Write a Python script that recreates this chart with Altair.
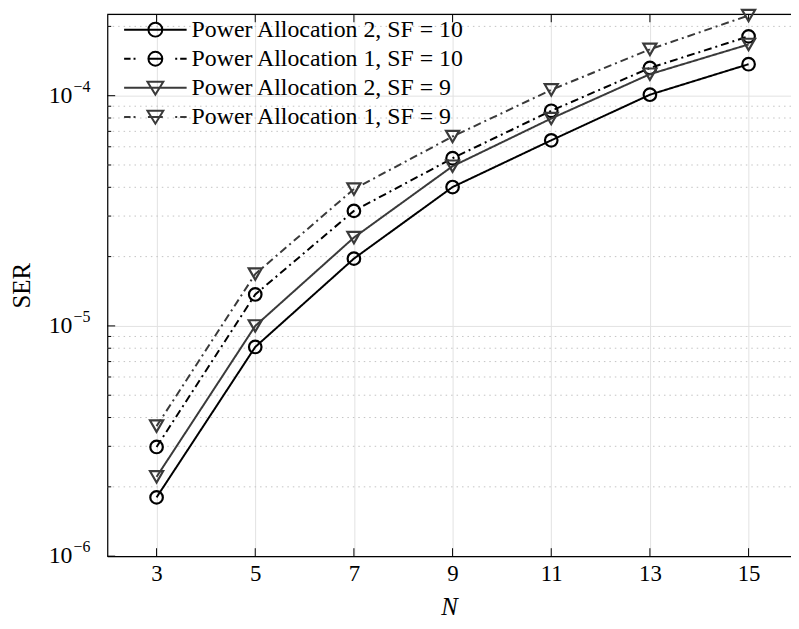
import altair as alt
import pandas as pd

# ---- data ----
N = [3, 5, 7, 9, 11, 13, 15]
pa2_sf10 = [1.80e-6, 8.1e-6, 1.96e-5, 4.01e-5, 6.4e-5, 1.01e-4, 1.37e-4]
pa1_sf10 = [2.98e-6, 1.37e-5, 3.16e-5, 5.35e-5, 8.6e-5, 1.32e-4, 1.81e-4]
pa2_sf9 = [2.21e-6, 1.0e-5, 2.42e-5, 4.94e-5, 7.96e-5, 1.24e-4, 1.67e-4]
pa1_sf9 = [3.67e-6, 1.68e-5, 3.93e-5, 6.65e-5, 1.06e-4, 1.59e-4, 2.23e-4]

series_names = [
    "Power Allocation 2, SF = 10",
    "Power Allocation 1, SF = 10",
    "Power Allocation 2, SF = 9",
    "Power Allocation 1, SF = 9",
]
series_values = [pa2_sf10, pa1_sf10, pa2_sf9, pa1_sf9]
series_colors = ["#000000", "#000000", "#3a3a3a", "#3a3a3a"]
series_shapes = ["circle", "circle", "triangle-down", "triangle-down"]
series_sizes = [160, 160, 175, 175]
series_dash = [[1, 0], [8, 4, 2, 4], [1, 0], [8, 4, 2, 4]]

x_ticks = [3, 5, 7, 9, 11, 13, 15]
y_major = [1e-6, 1e-5, 1e-4]
y_major_exp = ["\u22126", "\u22125", "\u22124"]
y_minor = [m * 10.0 ** e for e in (-6, -5, -4) for m in range(2, 10) if m * 10.0 ** e < 2.26e-4]

W, H = 689, 546
X_DOMAIN = [2, 15.86]
Y_DOMAIN = [1e-6, 2.257e-4]
FONT = "Liberation Serif"

xs = alt.Scale(domain=X_DOMAIN, nice=False, zero=False)
ys = alt.Scale(type="log", domain=Y_DOMAIN, nice=False)

# legend symbol paths (line + marker); unit = 10 px
circ = "M-0.7,0 A0.7,0.7 0 1,0 0.7,0 A0.7,0.7 0 1,0 -0.7,0 Z"
tri = "M-0.8,-0.62 L0.8,-0.62 L0,0.68 Z"
solid = "M-3.15,0 L3.15,0 "
dashdot = "M-3.15,0 L-2.5,0 M-2.2,0 L-2.0,0 M-0.75,0 L0.75,0 M2.0,0 L2.2,0 M2.5,0 L3.15,0 "
legend_paths = [solid + circ, dashdot + circ, solid + tri, dashdot + tri]

x_enc = alt.X("N:Q", scale=xs, axis=alt.Axis(
    values=x_ticks, title="N", titleFont=FONT, titleFontSize=25, titleFontStyle="italic",
    titleFontWeight="normal", titleColor="black", titlePadding=9,
    labelFont=FONT, labelFontSize=23, labelColor="black", labelPadding=7,
    tickSize=0, domainColor="black", domainWidth=1.2,
    grid=True, gridColor="#e2e2e2", gridWidth=1, labelFlush=False))
y_enc_axis = alt.Axis(
    values=y_major, title="SER", titleFont=FONT, titleFontSize=25,
    titleFontWeight="normal", titleColor="black", titlePadding=73,
    labels=False, tickSize=0, domainColor="black", domainWidth=1.2,
    grid=True, gridColor="#e2e2e2", gridWidth=1)

# minor dotted grid
minor_df = pd.DataFrame({"v": y_minor})
minor_grid = alt.Chart(minor_df).mark_rule(color="#c4c4c4", strokeDash=[1.5, 4], strokeWidth=1).encode(
    y=alt.Y("v:Q", scale=ys))
minor_ticks = alt.Chart(minor_df).mark_rule(color="black", strokeWidth=1).encode(
    y=alt.Y("v:Q", scale=ys), x=alt.value(0), x2=alt.value(4))

major_df = pd.DataFrame({"v": y_major, "base": ["10"] * 3, "exp": y_major_exp})
major_ticks = alt.Chart(major_df).mark_rule(color="black", strokeWidth=1).encode(
    y=alt.Y("v:Q", scale=ys), x=alt.value(0), x2=alt.value(8))
y_lab_base = alt.Chart(major_df).mark_text(
    font=FONT, fontSize=24, color="black", align="right", baseline="middle", dy=0).encode(
    y=alt.Y("v:Q", scale=ys), x=alt.value(-35), text="base:N")
y_lab_exp = alt.Chart(major_df).mark_text(
    font=FONT, fontSize=16, color="black", align="left", baseline="middle", dy=-9).encode(
    y=alt.Y("v:Q", scale=ys), x=alt.value(-34), text="exp:N")

xt_df = pd.DataFrame({"N": x_ticks})
x_ticks_bottom = alt.Chart(xt_df).mark_rule(color="black", strokeWidth=1).encode(
    x=alt.X("N:Q", scale=xs), y=alt.value(H), y2=alt.value(H - 8))
x_ticks_top = alt.Chart(xt_df).mark_rule(color="black", strokeWidth=1).encode(
    x=alt.X("N:Q", scale=xs), y=alt.value(0), y2=alt.value(8))

top_border = alt.Chart(pd.DataFrame({"a": [0]})).mark_rule(color="black", strokeWidth=1.2).encode(
    x=alt.value(0), x2=alt.value(W), y=alt.value(0))

base_axes = alt.Chart(pd.DataFrame({"N": N, "SER": pa2_sf10})).mark_point(opacity=0).encode(
    x=x_enc, y=alt.Y("SER:Q", scale=ys, axis=y_enc_axis))

layers = [base_axes, minor_grid, minor_ticks, major_ticks, x_ticks_bottom, x_ticks_top,
          top_border, y_lab_base, y_lab_exp]

for name, vals, col, shp, sz, dash in zip(series_names, series_values, series_colors,
                                          series_shapes, series_sizes, series_dash):
    df = pd.DataFrame({"N": N, "SER": vals})
    line = alt.Chart(df).mark_line(color=col, strokeWidth=2, strokeDash=dash).encode(
        x=alt.X("N:Q", scale=xs), y=alt.Y("SER:Q", scale=ys))
    pts = alt.Chart(df).mark_point(shape=shp, stroke=col, strokeWidth=2.2, filled=False,
                                   fill="transparent", size=sz, opacity=1).encode(
        x=alt.X("N:Q", scale=xs), y=alt.Y("SER:Q", scale=ys))
    layers += [line, pts]

leg = alt.Legend(title=None, orient="none", legendX=36.5, legendY=3.5, padding=0,
                 labelFont=FONT, labelFontSize=24, labelColor="black", labelOffset=24.5,
                 symbolSize=400, symbolStrokeWidth=2, symbolFillColor="transparent",
                 symbolOpacity=1, rowPadding=5.3, labelLimit=500)
legend_layer = alt.Chart(pd.DataFrame({"series": series_names})).mark_point(opacity=0, filled=False).encode(
    shape=alt.Shape("series:N", scale=alt.Scale(domain=series_names, range=legend_paths), legend=leg),
    stroke=alt.Stroke("series:N", scale=alt.Scale(domain=series_names, range=series_colors), legend=leg),
)
layers.append(legend_layer)

chart = alt.layer(*layers).properties(
    width=W, height=H,
    autosize=alt.AutoSizeParams(type="none"),
    padding={"left": 100, "top": 4, "right": 0, "bottom": 63},
).configure_view(stroke=None).configure(background="white")

chart.save("out.html", embed_options={"renderer": "svg", "actions": False})
